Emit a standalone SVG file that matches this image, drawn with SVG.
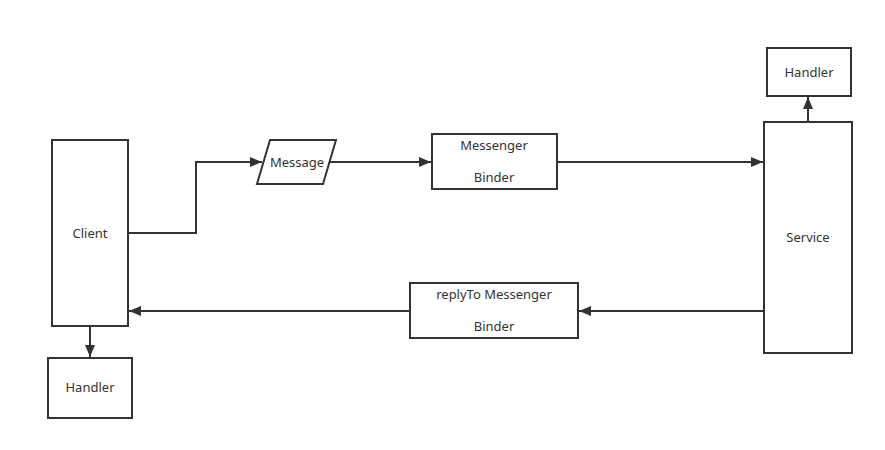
<svg xmlns="http://www.w3.org/2000/svg" width="885" height="450" viewBox="0 0 885 450">
<style>
.box{fill:#fff;stroke:#333;stroke-width:2}
.t{font-family:"Noto Sans","Open Sans",sans-serif;font-size:13px;fill:#333;text-anchor:middle;dominant-baseline:central}
.c{fill:none;stroke:#333;stroke-width:2}
</style>
<defs>
<marker id="a" viewBox="0 0 12 10" refX="12" refY="5" markerWidth="12" markerHeight="10" markerUnits="userSpaceOnUse" orient="auto">
<path d="M0,0 L12,5 L0,10 Z" fill="#333"/>
</marker>
</defs>
<rect width="885" height="450" fill="#fff"/>
<g id="connectors">
<path class="c" d="M128,233 H196 V162 H262" marker-end="url(#a)"/>
<path class="c" d="M330,162 H431" marker-end="url(#a)"/>
<path class="c" d="M557,162 H763" marker-end="url(#a)"/>
<path class="c" d="M764,311 H579" marker-end="url(#a)"/>
<path class="c" d="M410,311 H129" marker-end="url(#a)"/>
<path class="c" d="M90,326 V357" marker-end="url(#a)"/>
<path class="c" d="M808,122 V97" marker-end="url(#a)"/>
</g>
<g id="client">
<rect class="box" x="52" y="140" width="76" height="186"/>
<text class="t" x="90" y="233">Client</text>
</g>
<g id="client-handler">
<rect class="box" x="48" y="358" width="84" height="60"/>
<text class="t" x="90" y="387">Handler</text>
</g>
<g id="message">
<polygon class="box" points="270,140 336,140 323,184 257,184"/>
<text class="t" x="297" y="162">Message</text>
</g>
<g id="messenger-binder">
<rect class="box" x="432" y="134" width="125" height="55"/>
<text class="t" x="494" y="145">Messenger</text>
<text class="t" x="494" y="177">Binder</text>
</g>
<g id="service">
<rect class="box" x="764" y="122" width="88" height="231"/>
<text class="t" x="808" y="237">Service</text>
</g>
<g id="service-handler">
<rect class="box" x="767" y="48" width="84" height="48"/>
<text class="t" x="809" y="72">Handler</text>
</g>
<g id="replyto-binder">
<rect class="box" x="410" y="283" width="168" height="55"/>
<text class="t" x="494" y="294">replyTo Messenger</text>
<text class="t" x="494" y="326">Binder</text>
</g>
</svg>
